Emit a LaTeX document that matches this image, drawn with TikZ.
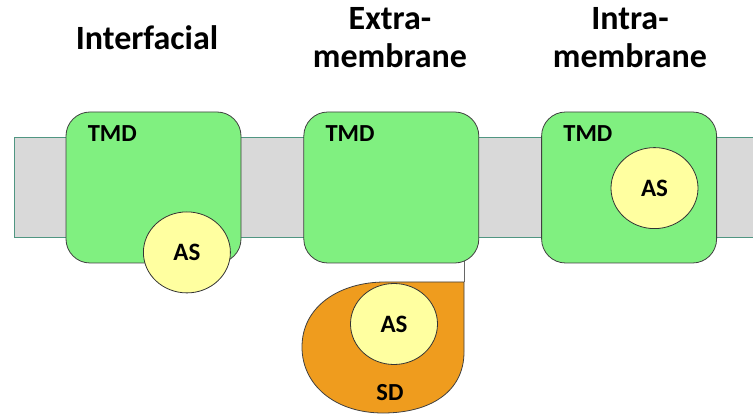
\documentclass[tikz,border=0pt]{standalone}
\usepackage{fontspec}
\setmainfont{Carlito}
\usepackage{tikz}
\usetikzlibrary{shapes, positioning, backgrounds}
\tikzset{
    tmdnode/.style = {draw=black!75, fill=tmdgreen, rectangle, rounded corners=24pt, line width=0.8pt,
      minimum width=175pt, minimum height=151pt, inner sep=0em, node distance=62pt},
    asnode/.style = {draw=black!80, fill=asyellow, ellipse, line width=0.8pt, inner sep=0em,
      minimum width=87pt, minimum height=81pt, font=\fontsize{25}{29}\selectfont\bfseries},
    labelnode/.style = {draw=none, fill=none, rectangle, inner sep=0em, font=\fontsize{24.5}{28}\selectfont\bfseries},
    titlenode/.style = {draw=none, fill=none, rectangle, inner sep=0em, font=\fontsize{34}{40}\selectfont\bfseries},
    sdshape/.style = {draw=black!75, fill=sdorange, line width=0.8pt},
    membraneedge/.style = {draw=memteal, line width=0.8pt},
    connect/.style = {black!60, line width=1pt}
}
\definecolor{tmdgreen}{RGB}{128, 240, 128}
\definecolor{asyellow}{RGB}{255, 255, 160}
\definecolor{sdorange}{RGB}{239, 156, 30}
\definecolor{memgray}{RGB}{217, 217, 217}
\definecolor{memteal}{RGB}{80, 150, 130}

\begin{document}
\begin{tikzpicture}[x=1pt, y=-1pt]
    \useasboundingbox (0,0) rectangle (753,414);

    % titles
    \node [name=interfacial, titlenode, anchor=base] at (147,50) {Interfacial};
    \node [name=extratitle, titlenode, anchor=base] at (390,30) {Extra-};
    \node [name=extrasub, titlenode, anchor=base] at ([yshift=-38pt]extratitle.base) {membrane};
    \node [name=intratitle, titlenode, anchor=base] at (630,30) {Intra-};
    \node [name=intrasub, titlenode, anchor=base] at ([yshift=-38pt]intratitle.base) {membrane};

    % transmembrane domains
    \node [name=TMD1, tmdnode] at (153.5,187.5) {};
    \node [name=TMD2, tmdnode, right=of TMD1] {};
    \node [name=TMD3, tmdnode, right=of TMD2] {};
    \foreach \t in {1,2,3}
      \node [name=TMD\t label, labelnode, anchor=base west] at ([xshift=22pt, yshift=-30pt]TMD\t.north west) {TMD};

    % active sites
    \node [name=AS1, asnode] at ([xshift=-54.5pt, yshift=11pt]TMD1.south east) {AS};
    \node [name=AS3, asnode] at ([xshift=-62.5pt, yshift=-76.5pt]TMD3.north east) {AS};

    % soluble domain
    \coordinate (sdcorner) at (464,282);
    \draw [sdshape] (sdcorner) -- (464,352) .. controls (464,392) and (430,413) .. (383,413)
      .. controls (335,413) and (302,385) .. (302,347) .. controls (302,306) and (340,282) .. (385,282) -- cycle;
    \node [name=AS2, asnode] at (394,324) {AS};
    \node [name=SD, labelnode] at (390,393) {SD};

    \begin{pgfonlayer}{background}
      \fill [memgray] (14,137) rectangle (753,237);
      \draw [membraneedge] (753,137) -- (14,137) -- (14,237) -- (753,237);
      \draw [connect] (TMD2.center -| sdcorner) -- (sdcorner);
    \end{pgfonlayer}
\end{tikzpicture}
\end{document}
